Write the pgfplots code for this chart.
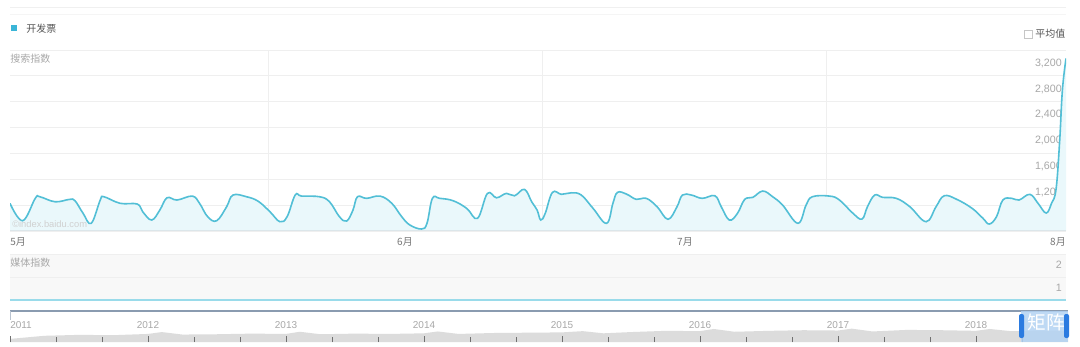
\documentclass[border=0pt]{standalone}
\usepackage{pgfplots}
\pgfplotsset{compat=1.18}
\usepackage{pgfplotstable}
\usepackage{fontspec}
\setmainfont{Liberation Sans}
\newfontfamily\cjk{Noto Sans CJK SC}
\definecolor{linec}{HTML}{52BFD6}
\definecolor{fillc}{HTML}{EAF8FB}
\definecolor{legc}{HTML}{3BB5D7}
\definecolor{gridc}{HTML}{EFEFEF}
\definecolor{labc}{HTML}{A8A8A8}
\definecolor{txtc}{HTML}{777777}
\definecolor{legt}{HTML}{555555}
\definecolor{panelbg}{HTML}{F8F8F8}
\definecolor{medline}{HTML}{9ADBEA}
\definecolor{areac}{HTML}{DCDCDC}
\definecolor{tickc}{HTML}{707070}
\definecolor{ovtop}{HTML}{8A9BB0}
\definecolor{selc}{HTML}{B3D3F3}
\definecolor{handlec}{HTML}{2B7BE0}
\definecolor{wmc}{HTML}{D0D0D0}
\definecolor{botc}{HTML}{DCE6EA}

\pgfplotstableread{
d v
0.0 1228
1.4 959
2.8 1305
3.3 1330
5.0 1252
6.6 1289
7.2 1268
8.1 1073
9.0 919
10.0 1279
10.4 1330
12.2 1228
14.1 1217
14.7 1098
15.7 970
16.6 1124
17.4 1314
18.5 1279
20.2 1340
21.0 1228
21.9 1021
22.9 959
24.0 1175
24.7 1356
26.2 1330
27.5 1260
28.8 1098
29.9 944
30.7 1021
31.6 1356
32.3 1340
34.3 1330
35.4 1252
36.5 1021
37.3 954
38.0 1124
38.5 1330
39.5 1305
41.0 1340
42.3 1228
43.4 1021
44.3 893
45.6 831
46.2 919
46.8 1305
47.6 1305
49.1 1268
50.6 1150
51.8 996
52.9 1382
53.9 1314
55.0 1382
55.9 1345
57.0 1444
57.8 1252
58.4 1124
58.8 970
59.3 1073
60.1 1397
61.1 1367
62.2 1391
63.3 1356
64.6 1150
66.1 919
66.8 1228
67.3 1397
68.3 1371
69.4 1289
70.5 1305
71.7 1175
72.9 981
73.9 1175
74.5 1356
75.5 1356
76.7 1305
78.1 1345
78.8 1175
79.7 970
80.6 1073
81.4 1289
82.3 1320
83.4 1418
84.5 1330
85.6 1201
87.3 919
88.2 1200
88.9 1330
90.8 1340
91.9 1279
93.4 1073
94.4 985
95.0 1175
95.8 1356
96.7 1320
98.2 1305
99.7 1175
101.5 944
102.6 1175
103.5 1345
104.9 1289
106.6 1150
107.8 996
108.5 908
109.3 1021
110.0 1279
111.0 1305
111.8 1279
113.0 1367
113.9 1228
114.8 1078
115.4 1230
115.9 1450
116.3 2200
116.6 2980
117.0 3470
}\maindata

\pgfplotstableread{
y v
2011.00 1.0
2011.25 2.0
2011.50 2.3
2011.75 2.2
2012.00 2.6
2012.10 3.2
2012.25 2.4
2012.50 2.5
2012.75 2.7
2013.00 2.6
2013.10 3.3
2013.25 2.5
2013.50 2.7
2013.75 2.6
2014.00 2.8
2014.10 3.4
2014.25 2.6
2014.50 2.9
2014.75 3.0
2015.00 3.1
2015.15 3.5
2015.30 2.8
2015.50 3.2
2015.75 3.6
2016.00 3.5
2016.10 4.2
2016.25 3.3
2016.50 3.6
2016.75 3.8
2017.00 3.7
2017.10 4.3
2017.25 3.4
2017.50 3.9
2017.75 3.8
2018.00 3.6
2018.10 4.2
2018.25 3.5
2018.50 3.7
2018.667 3.6
}\ovdata

\begin{document}
\begin{tikzpicture}
\path[use as bounding box, fill=white] (0,0) rectangle (810pt,259.5pt);

% main search-index panel
\begin{axis}[
  at={(7.5pt,86.25pt)}, anchor=south west,
  scale only axis, width=792pt, height=135.75pt,
  xmin=0, xmax=117, ymin=800, ymax=3600,
  axis line style={draw=none},
  xtick={28.6,59.0,90.5}, xticklabels={},
  ytick={800,1200,...,3200},
  extra y ticks={3600}, extra y tick labels={},
  extra y tick style={grid=major},
  xmajorgrids, ymajorgrids,
  grid style={draw=gridc, line width=0.6pt},
  major tick length=0pt,
  yticklabel pos=right,
  yticklabel style={anchor=south east, inner sep=0pt, xshift=-3pt, yshift=6pt, text=labc, font=\fontsize{8}{9}\selectfont},
  /pgf/number format/.cd, 1000 sep={,}, assume math mode=true,
]
\addplot[fill=fillc, draw=none, smooth, tension=0.65] table[x=d, y=v] {\maindata} \closedcycle;
\draw[botc, line width=0.8pt] (axis cs:0,800) -- (axis cs:117,800);
\addplot[draw=linec, line width=1.2pt, smooth, tension=0.65] table[x=d, y=v] {\maindata};
\end{axis}

% media-index panel
\begin{axis}[
  at={(7.5pt,34.5pt)}, anchor=south west,
  scale only axis, width=792pt, height=34.5pt,
  xmin=0, xmax=117, ymin=1, ymax=3,
  axis line style={draw=none},
  axis background/.style={fill=panelbg},
  xtick=\empty, ytick={1,2},
  extra y ticks={3}, extra y tick labels={},
  extra y tick style={grid=major},
  ymajorgrids,
  grid style={draw=gridc, line width=0.6pt},
  major tick length=0pt,
  yticklabel pos=right,
  yticklabel style={anchor=south east, inner sep=0pt, xshift=-3pt, yshift=6pt, text=labc, font=\fontsize{8}{9}\selectfont},
  clip=false,
  /pgf/number format/assume math mode=true,
]
\addplot[draw=medline, line width=0.9pt] coordinates {(0,1) (117,1)};
\end{axis}

% overview panel
\begin{axis}[
  at={(7.5pt,3pt)}, anchor=south west,
  scale only axis, width=793.5pt, height=23.25pt,
  xmin=2011, xmax=2018.667, ymin=0, ymax=10,
  axis line style={draw=none},
  axis on top,
  xtick={2011,...,2018}, xticklabels={},
  minor xtick={2011.333,2011.667,2012.333,2012.667,2013.333,2013.667,2014.333,2014.667,2015.333,2015.667,2016.333,2016.667,2017.333,2017.667,2018.333},
  ytick=\empty,
  xtick pos=left, tick align=inside,
  major tick length=4.5pt, minor tick length=3.5pt,
  every tick/.style={draw=tickc, line width=0.5pt},
  every minor tick/.style={draw=tickc, line width=0.5pt},
  clip=false,
]
\addplot[fill=areac, draw=none] table[x=y, y=v] {\ovdata} \closedcycle;
\end{axis}

\begin{scope}[shift={(0pt,259.5pt)}, x=0.75pt, y=-0.75pt]
  % top lines
  \draw[gray!12, line width=0.6pt] (10,7.5) -- (1066,7.5);
  \draw[gray!8, line width=0.6pt] (10,14.5) -- (1066,14.5);
  % legend
  \fill[legc] (11,25) rectangle (17,31);
  \node[anchor=west, inner sep=0pt, text=legt, font=\cjk\fontsize{7.5}{9}\selectfont] at (26,28.5) {开发票};
  \draw[gray!45, line width=0.5pt] (1024,30) rectangle (1032,38);
  \node[anchor=west, inner sep=0pt, text=legt, font=\cjk\fontsize{7.5}{9}\selectfont] at (1035,34) {平均值};
  % panel titles
  \node[anchor=west, inner sep=0pt, text=labc, font=\cjk\fontsize{7.5}{9}\selectfont] at (10,59) {搜索指数};
  \node[anchor=west, inner sep=0pt, text=labc, font=\cjk\fontsize{7.5}{9}\selectfont] at (10,263) {媒体指数};
  % watermark
  \node[anchor=west, inner sep=0pt, text=wmc, font=\fontsize{7}{8}\selectfont] at (12,224) {\textcopyright index.baidu.com};
  % month labels
  \node[anchor=west, inner sep=0pt, text=txtc, font=\cjk\fontsize{7.5}{9}\selectfont] at (10,242) {5月};
  \node[inner sep=0pt, text=txtc, font=\cjk\fontsize{7.5}{9}\selectfont] at (405,242) {6月};
  \node[inner sep=0pt, text=txtc, font=\cjk\fontsize{7.5}{9}\selectfont] at (685,242) {7月};
  \node[anchor=east, inner sep=0pt, text=txtc, font=\cjk\fontsize{7.5}{9}\selectfont] at (1066,242) {8月};
  % overview frame
  \draw[ovtop, line width=0.8pt] (10,311) -- (1068,311);
  \draw[ovtop!60, line width=0.6pt] (10,311) -- (10,320);
  % year labels
  \node[anchor=west, inner sep=0pt, text=labc, font=\fontsize{7.5}{9}\selectfont] at (10,325) {2011};
  \foreach \yr/\xx in {2012/148,2013/286,2014/424,2015/562,2016/700,2017/838,2018/976}
    \node[inner sep=0pt, text=labc, font=\fontsize{7.5}{9}\selectfont] at (\xx,325) {\yr};
  % selection
  \fill[selc, opacity=0.85] (1021,311) rectangle (1068,342);
  \fill[handlec, rounded corners=1.5pt] (1019,314) rectangle (1024,338);
  \fill[handlec, rounded corners=1.5pt] (1064,314) rectangle (1069,338);
  \node[inner sep=0pt, text=white, font=\cjk\fontsize{14}{16}\selectfont] at (1046,322) {矩阵};
\end{scope}
\end{tikzpicture}
\end{document}
